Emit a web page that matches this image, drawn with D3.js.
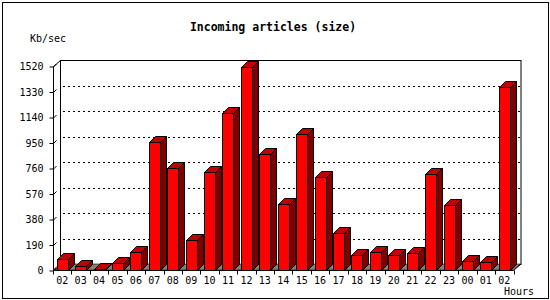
<!DOCTYPE html>
<html>
<head>
<meta charset="utf-8">
<script src="https://cdn.jsdelivr.net/npm/d3@7"></script>
<style>
  body { margin: 0; background: #fff; }
  text { font-family: "DejaVu Sans Mono", monospace; }
</style>
</head>
<body>
<div id="chart"></div>
<script>
// data
var hours  = ["02","03","04","05","06","07","08","09","10","11","12","13","14",
              "15","16","17","18","19","20","21","22","23","00","01","02"];
var values = [80, 30, 8, 50, 134, 956, 762, 222, 730, 1172, 1516, 864, 490,
              1012, 696, 274, 110, 132, 110, 125, 715, 483, 65, 58, 1364];
var yTicks = [0, 190, 380, 570, 760, 950, 1140, 1330, 1520];

var W = 550, H = 300;
var margin = {top: 66, right: 36, bottom: 30, left: 53};
var width  = 513.5 - margin.left;
var height = 270 - margin.top;
var dx = 7, dy = 6;        // depth of back wall
var bdx = 6, bdy = 6;      // depth of bars

var svg = d3.select("#chart").append("svg")
    .attr("width", W)
    .attr("height", H);

// outer frame
svg.append("rect")
    .attr("x", 2.5).attr("y", 2.5)
    .attr("width", W - 4).attr("height", H - 4)
    .attr("fill", "#fff")
    .attr("stroke", "#000");

svg.append("text")
    .attr("x", 273).attr("y", 27)
    .attr("text-anchor", "middle")
    .attr("dominant-baseline", "middle")
    .style("font-size", "11.5px")
    .style("font-weight", "bold")
    .text("Incoming articles (size)");

svg.append("text")
    .attr("x", 30).attr("y", 39)
    .attr("dominant-baseline", "middle")
    .style("font-size", "10px")
    .text("Kb/sec");

var g = svg.append("g")
    .attr("transform", "translate(" + margin.left + "," + margin.top + ")");

var x = d3.scaleBand()
    .domain(d3.range(hours.length))
    .range([0, width]);

var y = d3.scaleLinear()
    .domain([0, 1520])
    .range([height, 0]);

// back wall
g.append("rect")
    .attr("x", dx + 0.5).attr("y", y(1520) - dy + 0.5)
    .attr("width", width).attr("height", height)
    .attr("fill", "#fff")
    .attr("stroke", "#000");

// dotted grid lines on the back wall
g.selectAll("grid")
  .data(yTicks.filter(function(d){ return d > 0 && d < 1520; }))
  .enter()
  .append("line")
    .attr("x1", dx + 3)
    .attr("x2", width + dx)
    .attr("y1", function(d){ return Math.round(y(d) - dy) + 0.5; })
    .attr("y2", function(d){ return Math.round(y(d) - dy) + 0.5; })
    .attr("stroke", "#000")
    .attr("stroke-dasharray", "2,3");

// floor
g.append("path")
    .attr("d", "M0," + height + "L" + width + "," + height +
               "L" + (width + dx) + "," + (height - dy) +
               "L" + dx + "," + (height - dy) + "Z")
    .attr("fill", "#808080")
    .attr("stroke", "#000")
    .attr("stroke-width", 0.6);

// bars
var bw = 11;
var bars = g.selectAll("bar")
  .data(values)
  .enter()
  .append("g");

function x0(d, i){ return Math.round(x(i) + x.bandwidth() / 2 - bw / 2) + 0.5; }

bars.append("path")   // side
    .attr("d", function(d, i){
      var a = x0(d, i) + bw, t = Math.round(y(d)) + 0.5, b = height + 0.5;
      return "M" + a + "," + b + "L" + (a + bdx) + "," + (b - bdy) +
             "L" + (a + bdx) + "," + (t - bdy) + "L" + a + "," + t + "Z";
    })
    .attr("fill", "#800000")
    .attr("stroke", "#000");

bars.append("path")   // top
    .attr("d", function(d, i){
      var a = x0(d, i), t = Math.round(y(d)) + 0.5;
      return "M" + a + "," + t + "L" + (a + bdx) + "," + (t - bdy) +
             "L" + (a + bw + bdx) + "," + (t - bdy) + "L" + (a + bw) + "," + t + "Z";
    })
    .attr("fill", "#c00000")
    .attr("stroke", "#000");

bars.append("rect")   // front
    .attr("x", function(d, i){ return x0(d, i); })
    .attr("y", function(d){ return Math.round(y(d)) + 0.5; })
    .attr("width", bw)
    .attr("height", function(d){ return height - Math.round(y(d)); })
    .attr("fill", "#ff0000")
    .attr("stroke", "#000");

// y axis
var yAxis = g.append("g")
    .attr("transform", "translate(0.5,0.5)")
    .call(d3.axisLeft(y).tickValues(yTicks).tickFormat(d3.format("d"))
      .tickSize(4).tickPadding(6));
yAxis.select(".domain").attr("d", "M0," + height + "V0L" + dx + "," + (-dy));
yAxis.selectAll(".tick").append("line")
    .attr("x2", 3).attr("y2", -3).attr("stroke", "#000");
yAxis.selectAll("text")
    .style("font-family", "DejaVu Sans Mono")
    .style("font-size", "10px");

// x axis
var xAxis = g.append("g")
    .attr("transform", "translate(0," + (height + 0.5) + ")")
    .call(d3.axisBottom(x).tickSize(0).tickPadding(6)
      .tickFormat(function(i){ return hours[i]; }));
xAxis.select(".domain").attr("d", "M0,0H" + width + "l" + dx + "," + (-dy));
xAxis.selectAll("bounds")
  .data(d3.range(hours.length + 1))
  .enter()
  .append("line")
    .attr("x1", function(i){ return Math.round(i * x.step()) + 0.5; })
    .attr("x2", function(i){ return Math.round(i * x.step()) + 0.5; })
    .attr("y1", 0).attr("y2", 4)
    .attr("stroke", "#000");
xAxis.selectAll("text")
    .style("font-family", "DejaVu Sans Mono")
    .style("font-size", "10px");

svg.append("text")
    .attr("x", 504).attr("y", 292)
    .attr("dominant-baseline", "middle")
    .style("font-size", "10px")
    .text("Hours");
</script>
</body>
</html>
